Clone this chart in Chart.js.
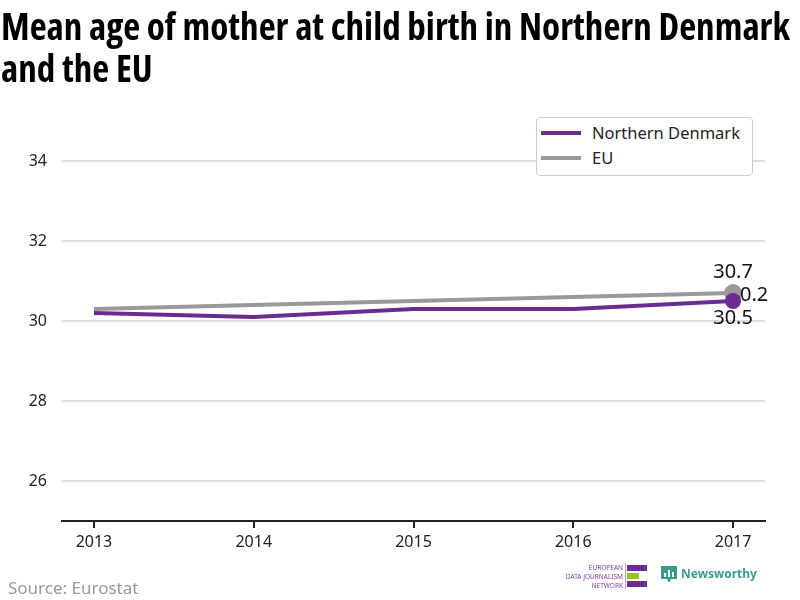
<!DOCTYPE html>
<html>
<head>
<meta charset="utf-8">
<script src="https://cdn.jsdelivr.net/npm/chart.js@4"></script>
<style>
  body { margin: 0; background: #fff; }
  #wrap { position: relative; width: 800px; height: 600px; overflow: hidden; font-family: "Noto Sans", "Open Sans", sans-serif; }
  #title { position: absolute; left: 1px; top: 4px; font-family: "Open Sans", sans-serif; font-stretch: 75%; font-weight: bold; font-size: 38px; line-height: 42px; color: #000; white-space: nowrap; transform-origin: 0 0; }
  canvas { position: absolute; left: 0; top: 0; }
  #legend { position: absolute; left: 536px; top: 117px; width: 215px; height: 57px; border: 1px solid #ccc; border-radius: 4px; background: #fff; font-size: 16.5px; color: #222; }
  .li { position: absolute; left: 4px; height: 20px; }
  .li span.sw { position: absolute; left: 0; top: 9px; width: 40px; height: 4px; }
  .li span.tx { position: absolute; left: 51px; top: -1px; white-space: nowrap; }
  #source { position: absolute; left: 8px; top: 576px; font-size: 17px; color: #999; }
  #edj { position: absolute; left: 563px; top: 563px; width: 60px; font-size: 6.5px; line-height: 9px; color: #7a3b97; text-align: right; }
  .bar { position: absolute; height: 6px; }
  #nw { position: absolute; left: 661px; top: 566px; }
  #nwtext { position: absolute; left: 681px; top: 565px; font-size: 12px; font-weight: bold; color: #3a9a8f; }
</style>
</head>
<body>
<div id="wrap">
  <canvas id="c" width="800" height="600"></canvas>
  <div id="title"><span id="t1">Mean age of mother at child birth in Northern Denmark</span><br>and the EU</div>
  <div id="legend">
    <div class="li" style="top:4px"><span class="sw" style="background:#6b2c91"></span><span class="tx">Northern Denmark</span></div>
    <div class="li" style="top:29px"><span class="sw" style="background:#999"></span><span class="tx">EU</span></div>
  </div>
  <div id="source">Source: Eurostat</div>
  <div id="edj">EUROPEAN<br>DATA JOURNALISM<br>NETWORK</div>
  <div style="position:absolute;left:625px;top:563px;width:1px;height:26px;background:#b9a0c9"></div>
  <div class="bar" style="left:627px;top:565px;width:20px;background:#6b2c91"></div>
  <div class="bar" style="left:627px;top:573px;width:12px;background:#9ac31c"></div>
  <div class="bar" style="left:627px;top:581px;width:20px;background:#6b2c91"></div>
  <svg id="nw" width="16" height="18" viewBox="0 0 16 18">
    <path d="M0 0 H16 V13 H10 L8 17 L6 13 H0 Z" fill="#3a9a8f"/>
    <rect x="3" y="7" width="2" height="4" fill="#fff"/>
    <rect x="7" y="4" width="2" height="7" fill="#fff"/>
    <rect x="11" y="6" width="2" height="5" fill="#fff"/>
  </svg>
  <div id="nwtext">Newsworthy</div>
</div>
<script>
const years = [2013, 2014, 2015, 2016, 2017];
const northernDenmark = [30.2, 30.1, 30.3, 30.3, 30.5];
const eu = [30.3, 30.4, 30.5, 30.6, 30.7];
const yTicks = [26, 28, 30, 32, 34];

const purple = '#6b2c91';
const grey = '#999999';

// squeeze the title so the first line fits like a condensed face
const t1 = document.getElementById('t1');
const tw = t1.getBoundingClientRect().width;
if (tw > 0) document.getElementById('title').style.transform = 'scaleX(' + (789 / tw) + ')';

function toPoints(vals) {
  return years.map((yr, i) => ({ x: yr, y: vals[i] }));
}
const lastIdx = years.length - 1;

// labels at the end of the lines
const endLabels = {
  id: 'endLabels',
  afterDatasetsDraw(chart) {
    const ctx = chart.ctx;
    const pEu = chart.getDatasetMeta(1).data[lastIdx];
    const pNd = chart.getDatasetMeta(0).data[lastIdx];
    ctx.save();
    ctx.font = '20px "Noto Sans", sans-serif';
    ctx.fillStyle = '#111';
    ctx.textAlign = 'center';
    ctx.textBaseline = 'middle';
    ctx.fillText(eu[lastIdx].toFixed(1), pEu.x, pEu.y - 21);
    ctx.fillText(northernDenmark[lastIdx].toFixed(1), pNd.x, pNd.y + 17);
    const diff = Math.abs(eu[lastIdx] - northernDenmark[lastIdx]).toFixed(1);
    ctx.textAlign = 'left';
    ctx.fillText(diff, pEu.x + 7, (pEu.y + pNd.y) / 2 - 2);
    ctx.restore();
  }
};

new Chart(document.getElementById('c'), {
  type: 'line',
  data: {
    datasets: [
      {
        label: 'Northern Denmark',
        data: toPoints(northernDenmark),
        borderColor: purple,
        backgroundColor: purple,
        borderWidth: 4,
        pointRadius: c => c.dataIndex === lastIdx ? 8 : 0,
        pointBorderWidth: 0,
        tension: 0
      },
      {
        label: 'EU',
        data: toPoints(eu),
        borderColor: grey,
        backgroundColor: grey,
        borderWidth: 4,
        pointRadius: c => c.dataIndex === lastIdx ? 9 : 0,
        pointBorderWidth: 0,
        tension: 0
      }
    ]
  },
  options: {
    responsive: false,
    animation: false,
    layout: { padding: { top: 121, right: 35, left: 0, bottom: 0 } },
    plugins: { legend: { display: false }, tooltip: { enabled: false } },
    scales: {
      x: {
        type: 'linear',
        min: 2012.8,
        max: 2017.2,
        afterBuildTicks: s => { s.ticks = years.map(v => ({ value: v })); },
        afterFit: s => { s.height = 79; },
        grid: { display: true, drawOnChartArea: false, drawTicks: true, tickLength: 7, tickColor: '#222', lineWidth: 2 },
        border: { display: true, color: '#222', width: 2 },
        ticks: { color: '#222', font: { size: 16, family: '"Noto Sans", sans-serif' }, padding: 5, callback: v => String(v) }
      },
      y: {
        min: 25,
        max: 35,
        afterBuildTicks: s => { s.ticks = yTicks.map(v => ({ value: v })); },
        afterFit: s => { s.width = 62; },
        grid: { color: '#dddddd', lineWidth: 2, drawTicks: false },
        border: { display: false },
        ticks: { color: '#222', font: { size: 16, family: '"Noto Sans", sans-serif' }, padding: 15 }
      }
    }
  },
  plugins: [endLabels]
});
</script>
</body>
</html>
